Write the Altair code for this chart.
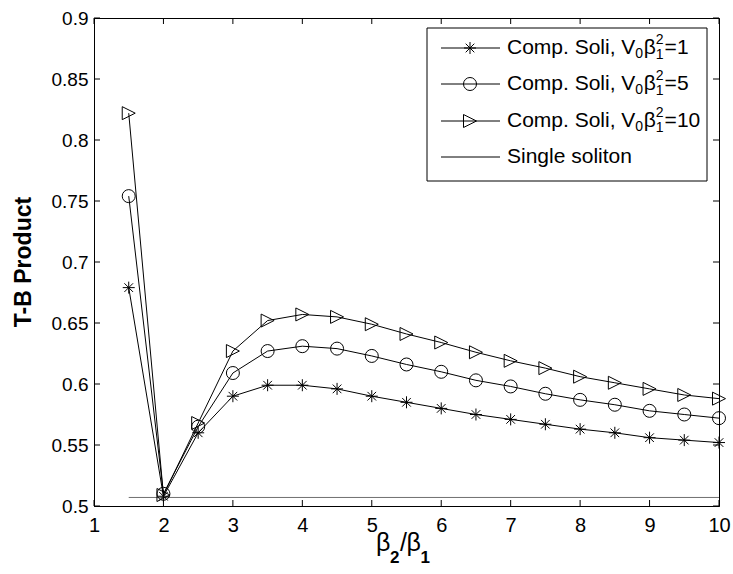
import altair as alt
import pandas as pd

# beta2/beta1 ratio sampled along the x axis
ratio = [1.5, 2, 2.5, 3, 3.5, 4, 4.5, 5, 5.5, 6, 6.5, 7, 7.5, 8, 8.5, 9, 9.5, 10]

# time-bandwidth product of the compound soliton for three values of V0*beta1^2
tb_v1 = [0.679, 0.508, 0.560, 0.590, 0.599, 0.599, 0.596, 0.590, 0.585, 0.580,
         0.575, 0.571, 0.567, 0.563, 0.560, 0.556, 0.554, 0.552]
tb_v5 = [0.754, 0.510, 0.565, 0.609, 0.627, 0.631, 0.629, 0.623, 0.616, 0.610,
         0.603, 0.598, 0.592, 0.587, 0.583, 0.578, 0.575, 0.572]
tb_v10 = [0.822, 0.509, 0.568, 0.627, 0.652, 0.657, 0.655, 0.649, 0.641, 0.634,
          0.626, 0.619, 0.613, 0.606, 0.601, 0.596, 0.591, 0.588]

# single soliton reference level
single_x = [1.5, 10]
single_tb = [0.507, 0.507]

series_names = ["V1", "V5", "V10"]
series_values = [tb_v1, tb_v5, tb_v10]
series_labels = ["1", "5", "10"]

x_ticks = [1, 2, 3, 4, 5, 6, 7, 8, 9, 10]
y_ticks = [0.5, 0.55, 0.6, 0.65, 0.7, 0.75, 0.8, 0.85, 0.9]

W, H = 625, 488
FONT = "Liberation Sans"

STAR = "M-1,0L1,0M0,-1L0,1M-0.72,-0.72L0.72,0.72M-0.72,0.72L0.72,-0.72"
TRI_RIGHT = "M-1,-1L1,0L-1,1Z"
shapes = [STAR, "circle", TRI_RIGHT]
sizes = [144, 169, 169]

x_scale = alt.Scale(domain=[1, 10], nice=False, zero=False)
y_scale = alt.Scale(domain=[0.5, 0.9], nice=False, zero=False)

x_axis = alt.Axis(values=x_ticks, format="d", ticks=False, grid=False, title=None,
                  labelPadding=9, labelFontSize=20, labelFont=FONT, labelColor="black",
                  labelFlush=False, labelOverlap=False, domainColor="black")
y_axis = alt.Axis(values=y_ticks, format=".2~f", ticks=False, grid=False, title=None,
                  labelPadding=6, labelFontSize=19, labelFont=FONT, labelColor="black",
                  labelFlush=False, labelOverlap=False, domainColor="black")

df = pd.DataFrame({
    "ratio": ratio * 3,
    "tb": tb_v1 + tb_v5 + tb_v10,
    "series": sum([[n] * len(ratio) for n in series_names], []),
})

base = alt.Chart(df)
layers = []

# single soliton level
single_df = pd.DataFrame({"ratio": single_x, "tb": single_tb})
layers.append(
    alt.Chart(single_df).mark_line(color="#6f6f6f", strokeWidth=1).encode(
        x=alt.X("ratio:Q", scale=x_scale, axis=x_axis),
        y=alt.Y("tb:Q", scale=y_scale, axis=y_axis),
    )
)

# curves with their markers
for name, shape, size in zip(series_names, shapes, sizes):
    sub = base.transform_filter(alt.datum.series == name)
    layers.append(
        sub.mark_line(color="black", strokeWidth=1).encode(
            x=alt.X("ratio:Q", scale=x_scale, axis=x_axis),
            y=alt.Y("tb:Q", scale=y_scale, axis=y_axis),
        )
    )
    layers.append(
        sub.mark_point(shape=shape, size=size, filled=False, stroke="black",
                       strokeWidth=1, opacity=1).encode(
            x=alt.X("ratio:Q", scale=x_scale),
            y=alt.Y("tb:Q", scale=y_scale),
        )
    )

# inward tick marks on all four sides
xt = pd.DataFrame({"t": x_ticks})
yt = pd.DataFrame({"t": y_ticks})
TL = 6
layers.append(alt.Chart(xt).mark_rule(color="black", strokeWidth=1).encode(
    x=alt.X("t:Q", scale=x_scale), y=alt.value(H), y2=alt.value(H - TL)))
layers.append(alt.Chart(xt).mark_rule(color="black", strokeWidth=1).encode(
    x=alt.X("t:Q", scale=x_scale), y=alt.value(0), y2=alt.value(TL)))
layers.append(alt.Chart(yt).mark_rule(color="black", strokeWidth=1).encode(
    y=alt.Y("t:Q", scale=y_scale), x=alt.value(0), x2=alt.value(TL)))
layers.append(alt.Chart(yt).mark_rule(color="black", strokeWidth=1).encode(
    y=alt.Y("t:Q", scale=y_scale), x=alt.value(W), x2=alt.value(W - TL)))

one = alt.Data(values=[{}])


def text_layer(txt, x, y, size, weight="normal", baseline="middle", align="left", angle=0):
    return alt.Chart(one).mark_text(
        text=txt, font=FONT, fontSize=size, fontWeight=weight, color="black",
        baseline=baseline, align=align, angle=angle,
    ).encode(x=alt.value(x), y=alt.value(y))


# legend box
LX0, LX1, LY0, LY1 = 333, 613, 10, 163
layers.append(alt.Chart(one).mark_rect(fill="white", stroke="black", strokeWidth=1).encode(
    x=alt.value(LX0), x2=alt.value(LX1), y=alt.value(LY0), y2=alt.value(LY1)))

row_y = [30, 66, 103, 139]
LS0, LS1, LM = 347, 406, 376
TX = 413
F, FS = 21, 14

# approximate Arial advance widths (per 1000 em)
adv = {"C": 722, "o": 556, "m": 833, "p": 556, ".": 278, " ": 278, "S": 667, "l": 222,
       "i": 222, ",": 278, "V": 667}


def width(s, size):
    return sum(adv.get(c, 556) for c in s) * size / 1000.0


for i, (lab, shape, size) in enumerate(zip(series_labels, shapes, sizes)):
    ry = row_y[i]
    layers.append(alt.Chart(one).mark_rule(color="black", strokeWidth=1).encode(
        x=alt.value(LS0), x2=alt.value(LS1), y=alt.value(ry)))
    layers.append(alt.Chart(one).mark_point(shape=shape, size=size, filled=False,
                                            stroke="black", strokeWidth=1, opacity=1).encode(
        x=alt.value(LM), y=alt.value(ry)))
    x = TX
    main = "Comp. Soli, V"
    layers.append(text_layer(main, x, ry, F))
    x += width(main, F)
    layers.append(text_layer("0", x, ry + 6, FS))
    x += 0.556 * FS + 0.5
    layers.append(text_layer("β", x, ry, F))
    x += 0.58 * F
    layers.append(text_layer("2", x, ry - 8, FS))
    layers.append(text_layer("1", x, ry + 6.5, FS))
    x += 0.556 * FS + 1
    layers.append(text_layer("=" + lab, x, ry, F))

ry = row_y[3]
layers.append(alt.Chart(one).mark_rule(color="black", strokeWidth=1).encode(
    x=alt.value(LS0), x2=alt.value(LS1), y=alt.value(ry)))
layers.append(text_layer("Single soliton", TX, ry, F))

# axis titles
layers.append(text_layer("T-B Product", -70, H / 2, 23, weight="bold", align="center", angle=270))
bx, by = 282, 533
layers.append(text_layer("β", bx, by, 25, baseline="alphabetic"))
layers.append(text_layer("2", bx + 14, by + 12, 17, weight="bold", baseline="alphabetic"))
layers.append(text_layer("/", bx + 24, by, 25, baseline="alphabetic"))
layers.append(text_layer("β", bx + 30.5, by, 25, baseline="alphabetic"))
layers.append(text_layer("1", bx + 44.5, by + 12, 17, weight="bold", baseline="alphabetic"))

chart = alt.layer(*layers).properties(
    width=W, height=H,
    autosize=alt.AutoSizeParams(type="none"),
    padding={"left": 94, "top": 18, "right": 14, "bottom": 68},
    background="white",
).configure_view(stroke="black", strokeWidth=1)

chart.save("out.html", embed_options={"renderer": "svg", "actions": False})
